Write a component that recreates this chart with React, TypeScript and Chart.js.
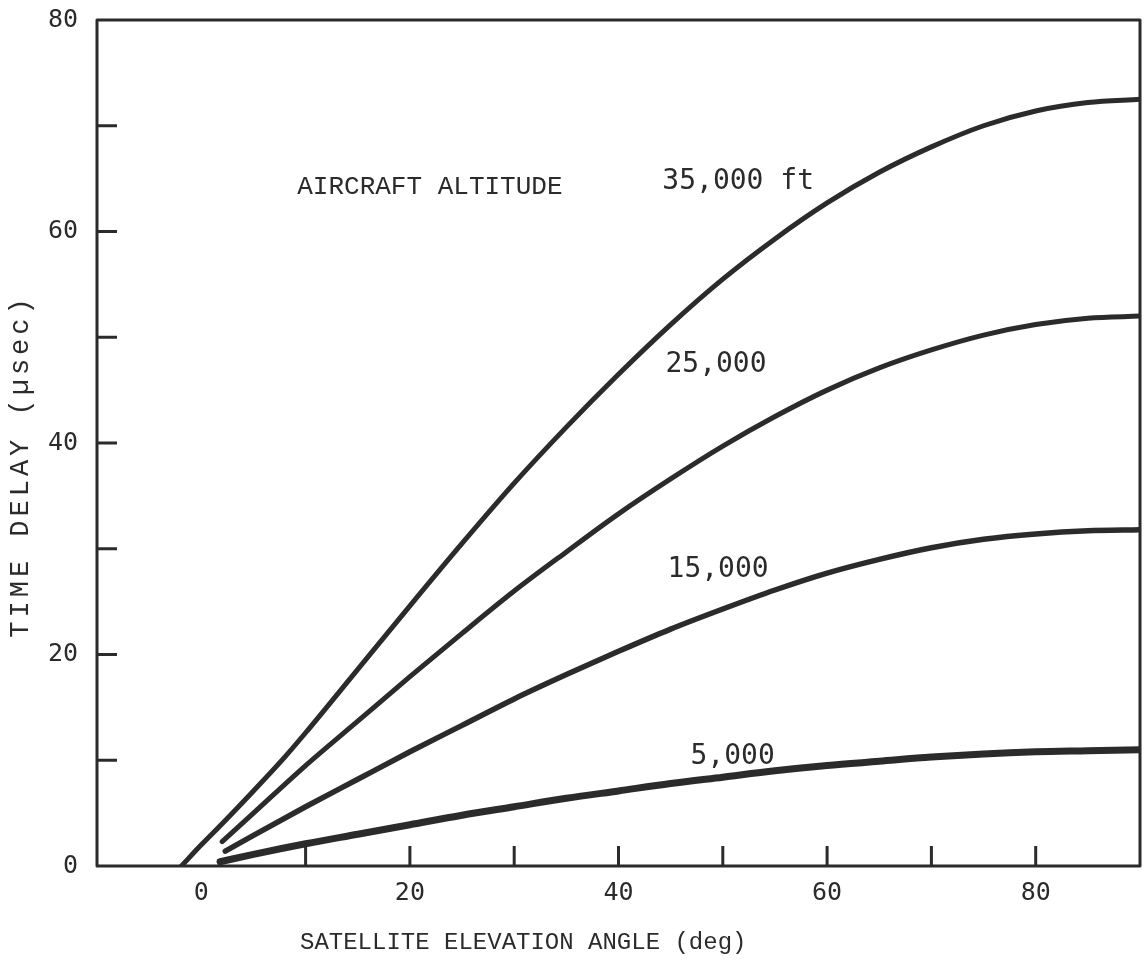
import React, { useEffect, useRef } from "react";
import { Chart, registerables } from "chart.js";

Chart.register(...registerables);

// Satellite elevation angle (deg) and time delay (µsec) per aircraft altitude
const elev35000 = [-1.9, 0, 2, 5, 8, 10, 15, 20, 25, 30, 35, 40, 45, 50, 55, 60, 65, 70, 75, 80, 85, 90];
const delay35000 = [0, 2.0, 4.0, 7.1, 10.3, 12.6, 18.6, 24.6, 30.5, 36.2, 41.5, 46.5, 51.2, 55.5, 59.3, 62.7, 65.6, 68.0, 70.0, 71.4, 72.2, 72.5];

const elev25000 = [2, 5, 10, 15, 20, 25, 30, 35, 40, 45, 50, 55, 60, 65, 70, 75, 80, 85, 90];
const delay25000 = [2.3, 5.0, 9.5, 13.7, 17.9, 22.0, 26.0, 29.7, 33.3, 36.6, 39.7, 42.5, 45.0, 47.1, 48.8, 50.2, 51.2, 51.8, 52.0];

const elev15000 = [2.3, 5, 10, 15, 20, 25, 30, 35, 40, 45, 50, 55, 60, 65, 70, 75, 80, 85, 90];
const delay15000 = [1.4, 2.9, 5.6, 8.2, 10.8, 13.3, 15.8, 18.1, 20.3, 22.4, 24.3, 26.1, 27.7, 29.0, 30.1, 30.9, 31.4, 31.7, 31.8];

const elev5000 = [1.8, 5, 10, 15, 20, 25, 30, 35, 40, 45, 50, 55, 60, 65, 70, 75, 80, 85, 90];
const delay5000 = [0.4, 1.1, 2.1, 3.0, 3.9, 4.8, 5.6, 6.4, 7.1, 7.8, 8.4, 9.0, 9.5, 9.9, 10.3, 10.6, 10.8, 10.9, 11.0];

const xTickLabels = ["0", "20", "40", "60", "80"];
const yTickLabels = ["0", "20", "40", "60", "80"];

const annotations = [
  { text: "AIRCRAFT ALTITUDE", x: 9.2, y: 64.2, serif: true },
  { text: "35,000 ft", x: 44.2, y: 64.7, serif: false },
  { text: "25,000", x: 44.5, y: 47.4, serif: false },
  { text: "15,000", x: 44.7, y: 28.0, serif: false },
  { text: "5,000", x: 46.9, y: 10.3, serif: false },
];

const xTitle = "SATELLITE ELEVATION ANGLE (deg)";
const yTitle = "TIME DELAY (\u00b5sec)";

const INK = "#2b2b2b";
const SERIF_MONO = "26px 'Liberation Mono', 'Courier New', monospace";
const TITLE_MONO = "24px 'Liberation Mono', 'Courier New', monospace";
const YTITLE_MONO = "27px 'Liberation Mono', 'Courier New', monospace";
const SANS_MONO = "28px 'DejaVu Sans Mono', monospace";

const pts = (xs: number[], ys: number[]) => xs.map((x, i) => ({ x, y: ys[i] }));

const framePlugin = {
  id: "frame",
  afterDraw(chart: any) {
    const { ctx, chartArea, scales } = chart;
    const xs = scales.x;
    const ys = scales.y;
    ctx.save();
    ctx.strokeStyle = INK;
    ctx.lineWidth = 3;
    ctx.lineJoin = "round";
    ctx.strokeRect(chartArea.left, chartArea.top, chartArea.right - chartArea.left, chartArea.bottom - chartArea.top);
    // inward tick marks
    const tl = 20;
    ys.ticks.forEach((t: any) => {
      if (t.value <= ys.min || t.value >= ys.max) return;
      const py = ys.getPixelForValue(t.value);
      ctx.beginPath();
      ctx.moveTo(chartArea.left, py);
      ctx.lineTo(chartArea.left + tl, py);
      ctx.stroke();
    });
    xs.ticks.forEach((t: any) => {
      if (t.value <= 0 || t.value >= xs.max) return;
      const px = xs.getPixelForValue(t.value);
      ctx.beginPath();
      ctx.moveTo(px, chartArea.bottom);
      ctx.lineTo(px, chartArea.bottom - tl);
      ctx.stroke();
    });
    // annotations
    ctx.fillStyle = INK;
    ctx.textBaseline = "middle";
    ctx.textAlign = "left";
    annotations.forEach((a) => {
      ctx.font = a.serif ? SERIF_MONO : SANS_MONO;
      ctx.fillText(a.text, xs.getPixelForValue(a.x), ys.getPixelForValue(a.y));
    });
    // axis titles
    ctx.font = TITLE_MONO;
    ctx.textAlign = "left";
    ctx.fillText(xTitle, chartArea.left + 203, chart.height - 17);
    ctx.font = YTITLE_MONO;
    try {
      (ctx as any).letterSpacing = "4px";
    } catch (e) {}
    ctx.translate(21, 466);
    ctx.rotate(-Math.PI / 2);
    ctx.textAlign = "center";
    ctx.fillText(yTitle, 0, 0);
    ctx.restore();
  },
};

export default function App() {
  const ref = useRef<HTMLCanvasElement>(null);
  useEffect(() => {
    if (!ref.current) return;
    const lineDs = (data: any[], w: number) => ({
      data,
      borderColor: INK,
      borderWidth: w,
      pointRadius: 0,
      fill: false,
      cubicInterpolationMode: "monotone" as const,
      borderCapStyle: "round" as const,
      borderJoinStyle: "round" as const,
    });
    const chart = new Chart(ref.current, {
      type: "line",
      data: {
        datasets: [
          lineDs(pts(elev35000, delay35000), 5),
          lineDs(pts(elev25000, delay25000), 5),
          lineDs(pts(elev15000, delay15000), 5.5),
          lineDs(pts(elev5000, delay5000), 7),
        ],
      },
      options: {
        animation: false,
        responsive: true,
        maintainAspectRatio: false,
        layout: { padding: { top: 20, right: 7, left: 0, bottom: 0 } },
        plugins: { legend: { display: false }, tooltip: { enabled: false } },
        scales: {
          x: {
            type: "linear",
            min: -10,
            max: 90,
            grid: { display: false, drawTicks: false },
            border: { display: false },
            afterFit: (s: any) => {
              s.height = 94;
              s.paddingLeft = 0;
              s.paddingRight = 0;
            },
            ticks: {
              stepSize: 10,
              padding: 12,
              color: INK,
              font: { family: "'DejaVu Sans Mono', monospace", size: 25 },
              maxRotation: 0,
              autoSkip: false,
              callback: (v: any) => {
                const s = String(v);
                return xTickLabels.includes(s) ? s : "";
              },
            },
          },
          y: {
            type: "linear",
            min: 0,
            max: 80,
            grid: { display: false, drawTicks: false },
            border: { display: false },
            afterFit: (s: any) => {
              s.width = 97;
              s.paddingTop = 0;
              s.paddingBottom = 0;
            },
            ticks: {
              stepSize: 10,
              padding: 19,
              color: INK,
              font: { family: "'DejaVu Sans Mono', monospace", size: 25 },
              autoSkip: false,
              callback: (v: any) => {
                const s = String(v);
                return yTickLabels.includes(s) ? s : "";
              },
            },
          },
        },
      },
      plugins: [framePlugin],
    });
    return () => chart.destroy();
  }, []);
  return (
    <div style={{ position: "fixed", left: 0, top: 0, width: 1147, height: 960, background: "#fff" }}>
      <canvas ref={ref} />
    </div>
  );
}
